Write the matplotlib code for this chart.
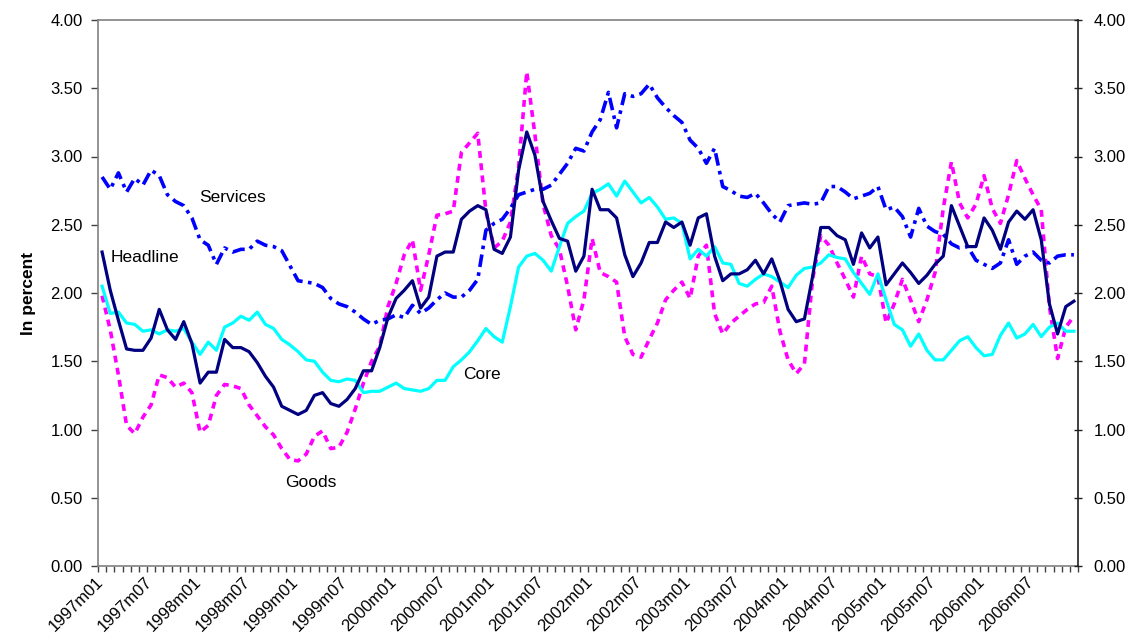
import matplotlib
matplotlib.use("Agg")
import matplotlib.pyplot as plt
import matplotlib.transforms as mtransforms
import numpy as np

plt.rcParams['font.family'] = ['Liberation Sans', 'DejaVu Sans']

# Monthly, 1997m01 .. 2006m12
months = [f"{y}m{m:02d}" for y in range(1997, 2007) for m in range(1, 13)]
tick_labels = [months[i] for i in range(0, 120, 6)]

headline = [2.30, 2.02, 1.80, 1.59, 1.58, 1.58, 1.67, 1.88, 1.73, 1.66, 1.79, 1.63,
            1.34, 1.42, 1.42, 1.66, 1.60, 1.60, 1.57, 1.49, 1.39, 1.31, 1.17, 1.14,
            1.11, 1.14, 1.25, 1.27, 1.19, 1.17, 1.22, 1.30, 1.43, 1.43, 1.60, 1.82,
            1.96, 2.02, 2.09, 1.89, 1.97, 2.27, 2.30, 2.30, 2.54, 2.60, 2.64, 2.61,
            2.32, 2.29, 2.41, 2.90, 3.18, 3.01, 2.67, 2.53, 2.40, 2.38, 2.16, 2.27,
            2.76, 2.61, 2.61, 2.55, 2.28, 2.12, 2.22, 2.37, 2.37, 2.52, 2.48, 2.52,
            2.35, 2.55, 2.58, 2.27, 2.09, 2.14, 2.14, 2.17, 2.24, 2.14, 2.25, 2.09,
            1.88, 1.79, 1.81, 2.12, 2.48, 2.48, 2.42, 2.39, 2.21, 2.44, 2.33, 2.41,
            2.06, 2.14, 2.22, 2.15, 2.07, 2.13, 2.21, 2.27, 2.64, 2.49, 2.34, 2.34,
            2.55, 2.46, 2.32, 2.52, 2.60, 2.54, 2.61, 2.39, 1.92, 1.70, 1.90, 1.94]

core = [2.05, 1.85, 1.86, 1.78, 1.77, 1.72, 1.73, 1.70, 1.73, 1.72, 1.74, 1.64,
        1.55, 1.64, 1.58, 1.75, 1.78, 1.83, 1.80, 1.86, 1.77, 1.74, 1.66, 1.62,
        1.57, 1.51, 1.50, 1.42, 1.36, 1.35, 1.37, 1.36, 1.27, 1.28, 1.28, 1.31,
        1.34, 1.30, 1.29, 1.28, 1.30, 1.36, 1.36, 1.46, 1.51, 1.57, 1.65, 1.74,
        1.68, 1.64, 1.90, 2.19, 2.27, 2.29, 2.24, 2.16, 2.34, 2.51, 2.56, 2.60,
        2.73, 2.76, 2.80, 2.71, 2.82, 2.74, 2.66, 2.70, 2.63, 2.54, 2.55, 2.51,
        2.25, 2.32, 2.27, 2.34, 2.22, 2.21, 2.07, 2.05, 2.10, 2.14, 2.12, 2.08,
        2.04, 2.13, 2.18, 2.19, 2.22, 2.28, 2.26, 2.25, 2.15, 2.07, 1.99, 2.14,
        1.95, 1.77, 1.73, 1.61, 1.70, 1.58, 1.51, 1.51, 1.58, 1.65, 1.68, 1.60,
        1.54, 1.55, 1.69, 1.78, 1.67, 1.70, 1.77, 1.68, 1.75, 1.78, 1.72, 1.72]

goods = [1.98, 1.73, 1.40, 1.03, 0.97, 1.09, 1.18, 1.40, 1.38, 1.31, 1.34, 1.27,
         0.98, 1.03, 1.25, 1.33, 1.32, 1.30, 1.18, 1.10, 1.02, 0.96, 0.86, 0.78,
         0.77, 0.82, 0.95, 0.99, 0.86, 0.87, 0.98, 1.15, 1.34, 1.50, 1.61, 1.90,
         2.07, 2.28, 2.39, 2.02, 2.28, 2.57, 2.58, 2.60, 3.03, 3.10, 3.17, 2.60,
         2.33, 2.38, 2.52, 2.92, 3.62, 3.16, 2.65, 2.42, 2.32, 2.05, 1.73, 1.95,
         2.40, 2.15, 2.12, 2.08, 1.68, 1.55, 1.53, 1.66, 1.78, 1.95, 2.02, 2.08,
         1.96, 2.27, 2.35, 1.85, 1.70, 1.78, 1.83, 1.88, 1.92, 1.93, 2.05, 1.72,
         1.51, 1.41, 1.48, 2.10, 2.42, 2.35, 2.22, 2.10, 1.97, 2.27, 2.14, 2.12,
         1.78, 1.92, 2.10, 1.95, 1.79, 1.95, 2.15, 2.62, 2.96, 2.66, 2.55, 2.65,
         2.86, 2.62, 2.51, 2.72, 2.97, 2.84, 2.72, 2.61, 1.90, 1.52, 1.75, 1.83]

services = [2.85, 2.76, 2.88, 2.74, 2.84, 2.79, 2.90, 2.86, 2.72, 2.67, 2.64, 2.55,
            2.39, 2.35, 2.21, 2.33, 2.30, 2.32, 2.32, 2.38, 2.35, 2.34, 2.31, 2.20,
            2.09, 2.08, 2.07, 2.04, 1.96, 1.92, 1.90, 1.86, 1.81, 1.77, 1.80, 1.81,
            1.84, 1.82, 1.91, 1.85, 1.89, 1.95, 2.00, 1.97, 1.97, 2.02, 2.10, 2.46,
            2.51, 2.54, 2.62, 2.72, 2.74, 2.76, 2.76, 2.79, 2.87, 2.95, 3.06, 3.04,
            3.18, 3.27, 3.47, 3.21, 3.46, 3.44, 3.46, 3.53, 3.43, 3.36, 3.30, 3.25,
            3.12, 3.06, 2.95, 3.06, 2.78, 2.75, 2.71, 2.70, 2.73, 2.66, 2.58, 2.52,
            2.64, 2.65, 2.66, 2.65, 2.66, 2.78, 2.78, 2.74, 2.69, 2.71, 2.73, 2.78,
            2.61, 2.63, 2.56, 2.41, 2.62, 2.49, 2.45, 2.43, 2.36, 2.33, 2.34, 2.24,
            2.21, 2.18, 2.22, 2.39, 2.21, 2.27, 2.30, 2.24, 2.22, 2.27, 2.28, 2.28]

x = np.arange(len(months))

fig = plt.figure(figsize=(11.33, 6.39), dpi=100)
ax = fig.add_axes([98/1133, 1-566/639, 980/1133, 546/639])

ax.plot(x, goods, color='#FF00FF', lw=2.6, dashes=(1.9, 1.5), dash_capstyle='butt')
ax.plot(x, services, color='#0000FF', lw=2.6, dashes=(3.5, 1.5, 1.0, 1.5),
        dash_capstyle='butt')
ax.plot(x, core, color='#00FFFF', lw=2.3)
ax.plot(x, headline, color='#000080', lw=2.3)

ax.set_xlim(-0.5, len(months) - 0.5)
ax.set_ylim(0, 4)
yt = np.arange(0, 4.01, 0.5)
ax.set_yticks(yt)
ax.set_yticklabels([f"{v:.2f}" for v in yt], fontsize=12)
ax.tick_params(axis='y', direction='out', length=5, width=1, pad=6, color='#404040')

ax.set_xticks(np.arange(0, 120, 6))
ax.set_xticklabels(tick_labels, rotation=45, ha='right', va='top',
                   rotation_mode='anchor', fontsize=12)
ax.tick_params(axis='x', which='major', length=0, pad=6)
shift = mtransforms.ScaledTranslation(-7/100, 0, fig.dpi_scale_trans)
for lab in ax.get_xticklabels():
    lab.set_transform(lab.get_transform() + shift)
ax.set_xticks(np.arange(-0.5, 120, 1), minor=True)
ax.tick_params(axis='x', which='minor', direction='out', length=4, width=1, color='#404040')

for s in ['top', 'left', 'bottom']:
    ax.spines[s].set_color('#808080')
    ax.spines[s].set_linewidth(1.2)
ax.spines['right'].set_visible(False)

ax.set_ylabel('In percent', fontsize=12.5, fontweight='bold', labelpad=10)

ax2 = ax.twinx()
ax2.set_ylim(0, 4)
ax2.set_yticks(yt)
ax2.set_yticklabels([f"{v:.2f}" for v in yt], fontsize=12)
ax2.tick_params(axis='y', direction='inout', length=6, width=1, pad=8, color='#202020')
for s in ['top', 'left', 'bottom']:
    ax2.spines[s].set_visible(False)
ax2.spines['right'].set_color('#202020')
ax2.spines['right'].set_linewidth(1.2)

ax.text(16.0, 2.70, 'Services', fontsize=12.5, ha='center', va='center')
ax.text(5.3, 2.26, 'Headline', fontsize=12.5, ha='center', va='center')
ax.text(46.5, 1.40, 'Core', fontsize=12.5, ha='center', va='center')
ax.text(25.6, 0.615, 'Goods', fontsize=12.5, ha='center', va='center')

fig.savefig('out.png', dpi=100)
